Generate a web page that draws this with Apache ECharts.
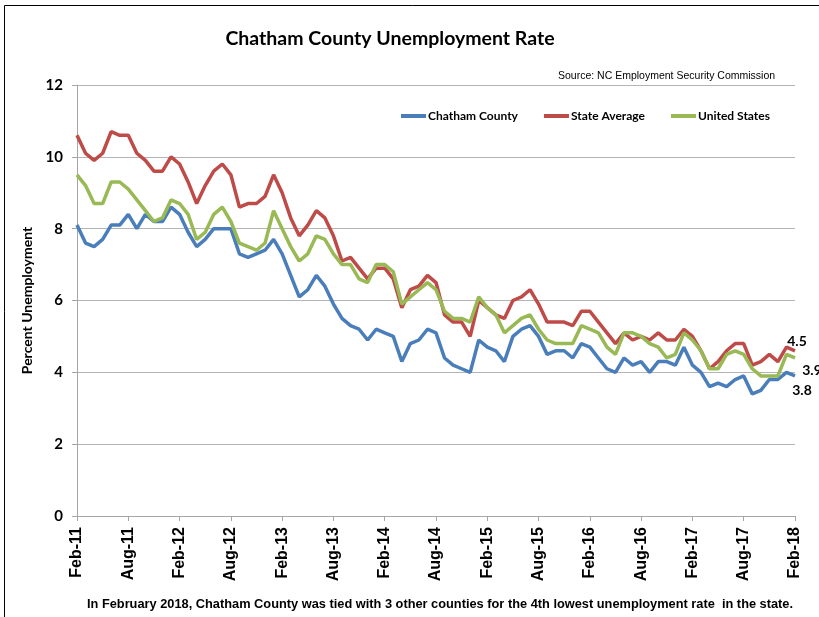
<!DOCTYPE html>
<html>
<head>
<meta charset="utf-8">
<script src="https://cdn.jsdelivr.net/npm/echarts@6/dist/echarts.min.js"></script>
<style>
  html, body { margin: 0; padding: 0; background: #fff; }
  #chart { width: 819px; height: 617px; }
</style>
</head>
<body>
<div id="chart"></div>
<script>
// monthly labels Feb-11 .. Feb-18
const months = ['Jan', 'Feb', 'Mar', 'Apr', 'May', 'Jun', 'Jul', 'Aug', 'Sep', 'Oct', 'Nov', 'Dec']
const categories = []
for (let y = 11; y <= 18; y++) {
  for (let m = 0; m < 12; m++) {
    if ((y === 11 && m < 1) || (y === 18 && m > 1)) continue
    categories.push(months[m] + '-' + y)
  }
}

const chatham = [
  8.1, 7.6, 7.5, 7.7, 8.1, 8.1, 8.4, 8.0, 8.4, 8.2, 8.2, 8.6, 8.4, 7.9, 7.5, 7.7, 8.0, 8.0, 8.0, 7.3,
  7.2, 7.3, 7.4, 7.7, 7.3, 6.7, 6.1, 6.3, 6.7, 6.4, 5.9, 5.5, 5.3, 5.2, 4.9, 5.2, 5.1, 5.0, 4.3, 4.8,
  4.9, 5.2, 5.1, 4.4, 4.2, 4.1, 4.0, 4.9, 4.7, 4.6, 4.3, 5.0, 5.2, 5.3, 5.0, 4.5, 4.6, 4.6, 4.4, 4.8,
  4.7, 4.4, 4.1, 4.0, 4.4, 4.2, 4.3, 4.0, 4.3, 4.3, 4.2, 4.7, 4.2, 4.0, 3.6, 3.7, 3.6, 3.8, 3.9, 3.4,
  3.5, 3.8, 3.8, 4.0, 3.9,
]
const stateAvg = [
  10.6, 10.1, 9.9, 10.1, 10.7, 10.6, 10.6, 10.1, 9.9, 9.6, 9.6, 10.0, 9.8, 9.3, 8.7, 9.2, 9.6, 9.8, 9.5, 8.6,
  8.7, 8.7, 8.9, 9.5, 9.0, 8.3, 7.8, 8.1, 8.5, 8.3, 7.8, 7.1, 7.2, 6.9, 6.6, 6.9, 6.9, 6.6, 5.8, 6.3,
  6.4, 6.7, 6.5, 5.6, 5.4, 5.4, 5.0, 6.0, 5.8, 5.6, 5.5, 6.0, 6.1, 6.3, 5.9, 5.4, 5.4, 5.4, 5.3, 5.7,
  5.7, 5.4, 5.1, 4.8, 5.1, 4.9, 5.0, 4.9, 5.1, 4.9, 4.9, 5.2, 5.0, 4.6, 4.1, 4.3, 4.6, 4.8, 4.8, 4.2,
  4.3, 4.5, 4.3, 4.7, 4.6,
]
const unitedStates = [
  9.5, 9.2, 8.7, 8.7, 9.3, 9.3, 9.1, 8.8, 8.5, 8.2, 8.3, 8.8, 8.7, 8.4, 7.7, 7.9, 8.4, 8.6, 8.2, 7.6,
  7.5, 7.4, 7.6, 8.5, 8.0, 7.5, 7.1, 7.3, 7.8, 7.7, 7.3, 7.0, 7.0, 6.6, 6.5, 7.0, 7.0, 6.8, 5.9, 6.1,
  6.3, 6.5, 6.3, 5.7, 5.5, 5.5, 5.4, 6.1, 5.8, 5.6, 5.1, 5.3, 5.5, 5.6, 5.2, 4.9, 4.8, 4.8, 4.8, 5.3,
  5.2, 5.1, 4.7, 4.5, 5.1, 5.1, 5.0, 4.8, 4.7, 4.4, 4.5, 5.1, 4.9, 4.6, 4.1, 4.1, 4.5, 4.6, 4.5, 4.1,
  3.9, 3.9, 3.9, 4.5, 4.4,
]

const seriesNames = ['Chatham County', 'State Average', 'United States']
const seriesColors = ['#4a7ebb', '#be4b48', '#98b954']
// labels shown at the end of the lines
const endLabels = ['4.5', '3.9', '3.8']

const chart = echarts.init(document.getElementById('chart'))
const last = categories.length - 1

const endLabelStyle = { show: true, fontFamily: 'Lato', fontWeight: 'bold', fontSize: 14, color: '#000' }

const lineSeries = (name, data, color) => ({
  name,
  type: 'line',
  data,
  symbol: 'none',
  smooth: false,
  lineStyle: { width: 3.5, color },
  itemStyle: { color },
  z: 2,
})

// 末端标签用透明的 markPoint 画
const endMark = (items) => ({
  symbol: 'circle',
  symbolSize: 1,
  silent: true,
  itemStyle: { color: 'rgba(0,0,0,0)' },
  label: endLabelStyle,
  data: items,
})

const sChatham = lineSeries(seriesNames[0], chatham, seriesColors[0])
sChatham.markPoint = endMark([
  { coord: [last, chatham[last]], label: { formatter: endLabels[1], offset: [17, -5] } },
  { coord: [last, chatham[last]], label: { formatter: endLabels[2], offset: [7, 15] } },
])
const sState = lineSeries(seriesNames[1], stateAvg, seriesColors[1])
sState.markPoint = endMark([
  { coord: [last, stateAvg[last]], label: { formatter: endLabels[0], offset: [2, -9] } },
])
const sUS = lineSeries(seriesNames[2], unitedStates, seriesColors[2])

const option = {
  animation: false,
  backgroundColor: '#fff',
  title: [
    {
      text: 'Chatham County Unemployment Rate',
      left: 385,
      top: 24,
      textAlign: 'center',
      textStyle: { fontFamily: 'Lato', fontWeight: 'bold', fontSize: 19.5, color: '#000' },
    },
    {
      text: 'Source: NC Employment Security Commission',
      left: 553,
      top: 66,
      textStyle: { fontFamily: 'Liberation Sans', fontWeight: 'normal', fontSize: 10.5, color: '#000' },
    },
    {
      text: 'In February 2018, Chatham County was tied with 3 other counties for the 4th lowest unemployment rate  in the state.',
      left: 435,
      top: 593,
      textAlign: 'center',
      textStyle: { fontFamily: 'Liberation Sans', fontWeight: 'bold', fontSize: 12.8, color: '#000' },
    },
  ],
  legend: {
    top: 105,
    left: 396,
    itemWidth: 25,
    itemHeight: 4,
    itemGap: 26,
    icon: 'rect',
    textStyle: { fontFamily: 'Lato', fontWeight: 'bold', fontSize: 12, color: '#000', padding: [0, 0, 0, -3] },
    data: seriesNames,
  },
  graphic: [
    {
      type: 'rect',
      silent: true,
      shape: { x: 4.5, y: 5.5, width: 900, height: 900 },
      style: { fill: 'none', stroke: '#000', lineWidth: 1 },
    },
  ],
  grid: { left: 77, right: 24, top: 85, bottom: 101, containLabel: false },
  xAxis: {
    type: 'category',
    data: categories,
    boundaryGap: false,
    axisLine: { lineStyle: { color: '#a6a6a6', width: 1 } },
    axisTick: { show: true, interval: 5, length: 5, lineStyle: { color: '#a6a6a6' } },
    axisLabel: {
      interval: 5,
      rotate: 90,
      margin: 11,
      fontFamily: 'Liberation Sans',
      fontWeight: 'bold',
      fontSize: 16,
      color: '#000',
    },
    splitLine: { show: false },
  },
  yAxis: {
    type: 'value',
    min: 0,
    max: 12,
    interval: 2,
    name: 'Percent Unemployment',
    nameLocation: 'middle',
    nameGap: 42,
    nameRotate: 90,
    nameTextStyle: { fontFamily: 'Lato', fontWeight: 'bold', fontSize: 14, color: '#000' },
    axisLine: { show: true, lineStyle: { color: '#a6a6a6', width: 1 } },
    axisTick: { show: true, inside: false, length: 5, lineStyle: { color: '#a6a6a6' } },
    axisLabel: { margin: 14, fontFamily: 'Lato', fontWeight: 'bold', fontSize: 15, color: '#000' },
    splitLine: { show: true, lineStyle: { color: '#b4b4b4', width: 1 } },
  },
  series: [sChatham, sState, sUS],
}

chart.setOption(option)
</script>
</body>
</html>
